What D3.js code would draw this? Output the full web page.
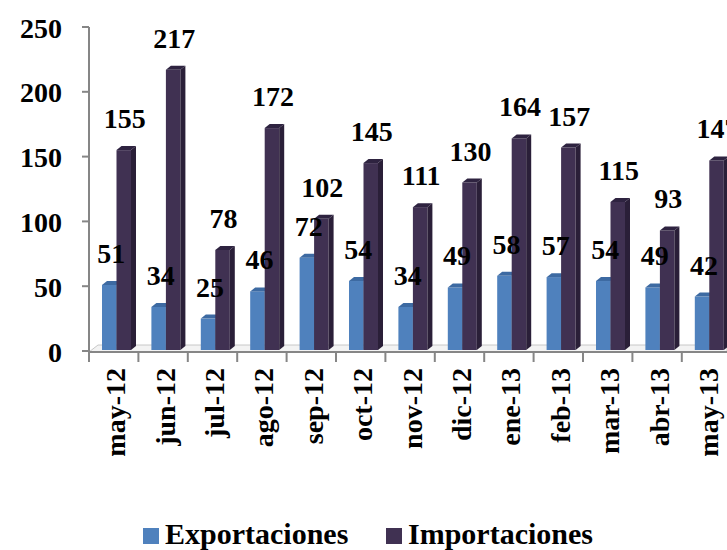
<!DOCTYPE html>
<html><head><meta charset="utf-8">
<script src="https://cdn.jsdelivr.net/npm/d3@7"></script>
<style>body{margin:0;background:#fff}svg{display:block}</style>
</head><body>
<script>
const categories = ["may-12","jun-12","jul-12","ago-12","sep-12","oct-12","nov-12","dic-12","ene-13","feb-13","mar-13","abr-13","may-13"];
const exportaciones = [51,34,25,46,72,54,34,49,58,57,54,49,42];
const importaciones = [155,217,78,172,102,145,111,130,164,157,115,93,147];
const yTicks = [0,50,100,150,200,250];
const seriesNames = ["Exportaciones","Importaciones"];

const W = 727, H = 550;
const font = "'Liberation Serif', 'Times New Roman', serif";
const colors = {
  exp: {front:"#4f81bd", top:"#3d6aa2", side:"#3a628f"},
  imp: {front:"#403152", top:"#2e2340", side:"#2a1f38"}
};
const svg = d3.select("body").append("svg").attr("width",W).attr("height",H);

const x0 = 89, bw = 49.4;
const x = d3.scaleBand().domain(categories).range([x0, x0 + bw*categories.length]).padding(0);
const y = d3.scaleLinear().domain([0,250]).range([351,27]);
const dx = 5, dy = 4;

// floor
const floorY = 352;
svg.append("path")
  .attr("d", `M${x0},${floorY} L${x0+9},${floorY-7} L${W},${floorY-7} L${W},${floorY} Z`)
  .attr("fill","#f3f3f3").attr("stroke","#c8c8c8").attr("stroke-width",1);

// y axis
const yAxis = svg.append("g");
yAxis.append("line").attr("x1",x0).attr("x2",x0).attr("y1",y(250)).attr("y2",floorY).attr("stroke","#868686").attr("stroke-width",2);
yAxis.selectAll("line.t").data(yTicks).enter().append("line").attr("class","t")
  .attr("x1",x0-7).attr("x2",x0).attr("y1",d=>y(d)).attr("y2",d=>y(d)).attr("stroke","#868686").attr("stroke-width",2);
yAxis.selectAll("text").data(yTicks).enter().append("text")
  .attr("x",62).attr("y",d=>y(d)+1).attr("text-anchor","end").attr("dominant-baseline","central")
  .attr("font-family",font).attr("font-weight","bold").attr("font-size",28).attr("fill","#000").text(d=>d);

// x axis
svg.append("line").attr("x1",x0).attr("x2",W).attr("y1",floorY).attr("y2",floorY).attr("stroke","#868686").attr("stroke-width",2);
svg.selectAll("line.xt").data(categories).enter().append("line").attr("class","xt")
  .attr("x1",d=>x(d)).attr("x2",d=>x(d)).attr("y1",floorY).attr("y2",floorY+10).attr("stroke","#868686").attr("stroke-width",2);

function bar3d(g, bx, bwid, val, c, showSide){
  const yt = y(val), yb = 350;
  g.append("rect").attr("x",bx).attr("y",yt).attr("width",bwid).attr("height",yb-yt).attr("fill",c.front);
  g.append("path").attr("d",`M${bx},${yt} L${bx+dx},${yt-dy} L${bx+bwid+dx},${yt-dy} L${bx+bwid},${yt} Z`).attr("fill",c.top);
  if (showSide) g.append("path").attr("d",`M${bx+bwid},${yt} L${bx+bwid+dx},${yt-dy} L${bx+bwid+dx},${yb-dy} L${bx+bwid},${yb} Z`).attr("fill",c.side);
}

const bars = svg.append("g");
const bwid = 14.5, off = 13;
categories.forEach((cat,i)=>{
  const g = bars.append("g");
  const bx = x(cat) + off;
  bar3d(g, bx, bwid, exportaciones[i], colors.exp, true);
  bar3d(g, bx+bwid, bwid, importaciones[i], colors.imp, true);
});

// value labels
const lbl = svg.append("g").attr("font-family",font).attr("font-weight","bold").attr("font-size",28).attr("fill","#000").attr("text-anchor","middle");
categories.forEach((cat,i)=>{
  const bx = x(cat) + off;
  lbl.append("text").attr("x",bx+bwid/2+2).attr("y",y(exportaciones[i])-22).text(exportaciones[i]);
  lbl.append("text").attr("x",bx+bwid*1.5+1).attr("y",y(importaciones[i])-22).text(importaciones[i]);
});

// x labels
svg.append("g").selectAll("text").data(categories).enter().append("text")
  .attr("transform",d=>`translate(${x(d)+x.bandwidth()/2+2},368) rotate(-90)`)
  .attr("text-anchor","end").attr("dominant-baseline","central")
  .attr("font-family",font).attr("font-weight","bold").attr("font-size",28).attr("fill","#000").text(d=>d);

// legend
const legend = svg.append("g");
const legItems = [{name:seriesNames[0], c:colors.exp.front, x:143},{name:seriesNames[1], c:colors.imp.front, x:386}];
legItems.forEach(it=>{
  legend.append("rect").attr("x",it.x).attr("y",528).attr("width",16).attr("height",16).attr("fill",it.c);
  legend.append("text").attr("x",it.x+22).attr("y",544).attr("font-family",font).attr("font-weight","bold").attr("font-size",30).attr("fill","#000").text(it.name);
});
</script>
</body></html>
